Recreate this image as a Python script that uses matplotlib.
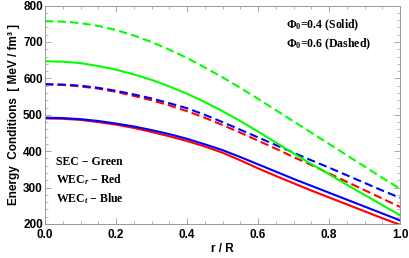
import matplotlib
matplotlib.use("Agg")
import matplotlib.pyplot as plt
from matplotlib.ticker import MultipleLocator

plt.rcParams['mathtext.fontset'] = 'custom'
plt.rcParams['mathtext.rm'] = 'Liberation Serif:bold'
plt.rcParams['mathtext.it'] = 'Liberation Serif:italic:bold'
plt.rcParams['mathtext.bf'] = 'Liberation Serif:bold'

r = [0.0, 0.05, 0.1, 0.15, 0.2, 0.25, 0.3, 0.35, 0.4, 0.45, 0.5,
     0.55, 0.6, 0.65, 0.7, 0.75, 0.8, 0.85, 0.9, 0.95, 1.0]
sec_dash = [757, 756, 752, 744, 733, 718, 700, 679, 656, 630, 603,
            574, 544, 513, 482, 451, 420, 389, 358, 327, 297]
sec_solid = [647, 646, 642, 634, 624, 611, 596, 578, 558, 535, 510,
             483, 454, 424, 394, 365, 337, 308, 280, 252, 224]
wect_dash = [584, 583, 580, 574, 566, 556, 545, 532, 518, 500, 480,
             459, 438, 417, 396, 375, 355, 334, 313, 292, 272]
wecr_dash = [584, 582, 578, 572, 563, 552, 540, 526, 510, 492, 472,
             451, 429, 407, 384, 362, 339, 316, 293, 270, 247]
wect_solid = [492, 491, 488, 483, 476, 468, 458, 447, 434, 419, 403,
              384, 364, 344, 324, 305, 286, 267, 248, 229, 210]
wecr_solid = [490, 489, 486, 480, 473, 464, 453, 441, 428, 413, 396,
              375, 353, 332, 312, 292, 273, 254, 235, 216, 198]

fig = plt.figure(figsize=(4.09, 2.58), dpi=100)
ax = fig.add_axes([45/409, 1-224/258, 355/409, 218.4/258])

lw = 1.5
ds = (4, 2)
ax.plot(r, sec_dash, color=(0, 1, 0), lw=lw, dashes=ds)
ax.plot(r, wecr_dash, color=(1, 0, 0), lw=lw, dashes=ds)
ax.plot(r, wect_dash, color=(0, 0, 1), lw=lw, dashes=ds)
ax.plot(r, sec_solid, color=(0, 1, 0), lw=lw)
ax.plot(r, wecr_solid, color=(1, 0, 0), lw=lw)
ax.plot(r, wect_solid, color=(0, 0, 1), lw=lw)

ax.set_xlim(0, 1)
ax.set_ylim(200, 800)
ax.xaxis.set_major_locator(MultipleLocator(0.2))
ax.xaxis.set_minor_locator(MultipleLocator(0.05))
ax.yaxis.set_major_locator(MultipleLocator(100))
ax.yaxis.set_minor_locator(MultipleLocator(20))
ax.xaxis.set_major_formatter(plt.FuncFormatter(lambda v, p: f"{v:.1f}"))
ax.tick_params(which='both', direction='in', top=True, right=True, color='#999999')
ax.tick_params(which='major', length=4, width=0.6, labelsize=8.5)
ax.tick_params(axis='y', which='major', pad=1.5)
ax.tick_params(axis='x', which='major', pad=3.5)
ax.tick_params(which='minor', length=2, width=0.5)
for lab in ax.get_xticklabels() + ax.get_yticklabels():
    lab.set_fontfamily('Liberation Sans')
    lab.set_fontweight('bold')
for s in ax.spines.values():
    s.set_color('#999999')
    s.set_linewidth(0.7)

ax.set_xlabel("r / R", fontsize=8.5, fontweight='bold', family='Liberation Sans', labelpad=1.5)
ax.set_ylabel("Energy  Conditions  [ MeV / fm³ ]", fontsize=8.5, fontweight='bold',
              family='Liberation Sans', labelpad=2)

tk = dict(fontsize=8.5, fontweight='bold', family='Liberation Serif', transform=ax.transAxes)
ax.text(0.68, 0.895, "Φ$_0$=0.4 (Solid)", **tk)
ax.text(0.68, 0.81, "Φ$_0$=0.6 (Dashed)", **tk)
ax.text(0.03, 0.27, "SEC − Green", **tk)
ax.text(0.03, 0.185, "WEC$_r$ − Red", **tk)
ax.text(0.03, 0.10, "WEC$_t$ − Blue", **tk)

fig.savefig("out.png", dpi=100)
